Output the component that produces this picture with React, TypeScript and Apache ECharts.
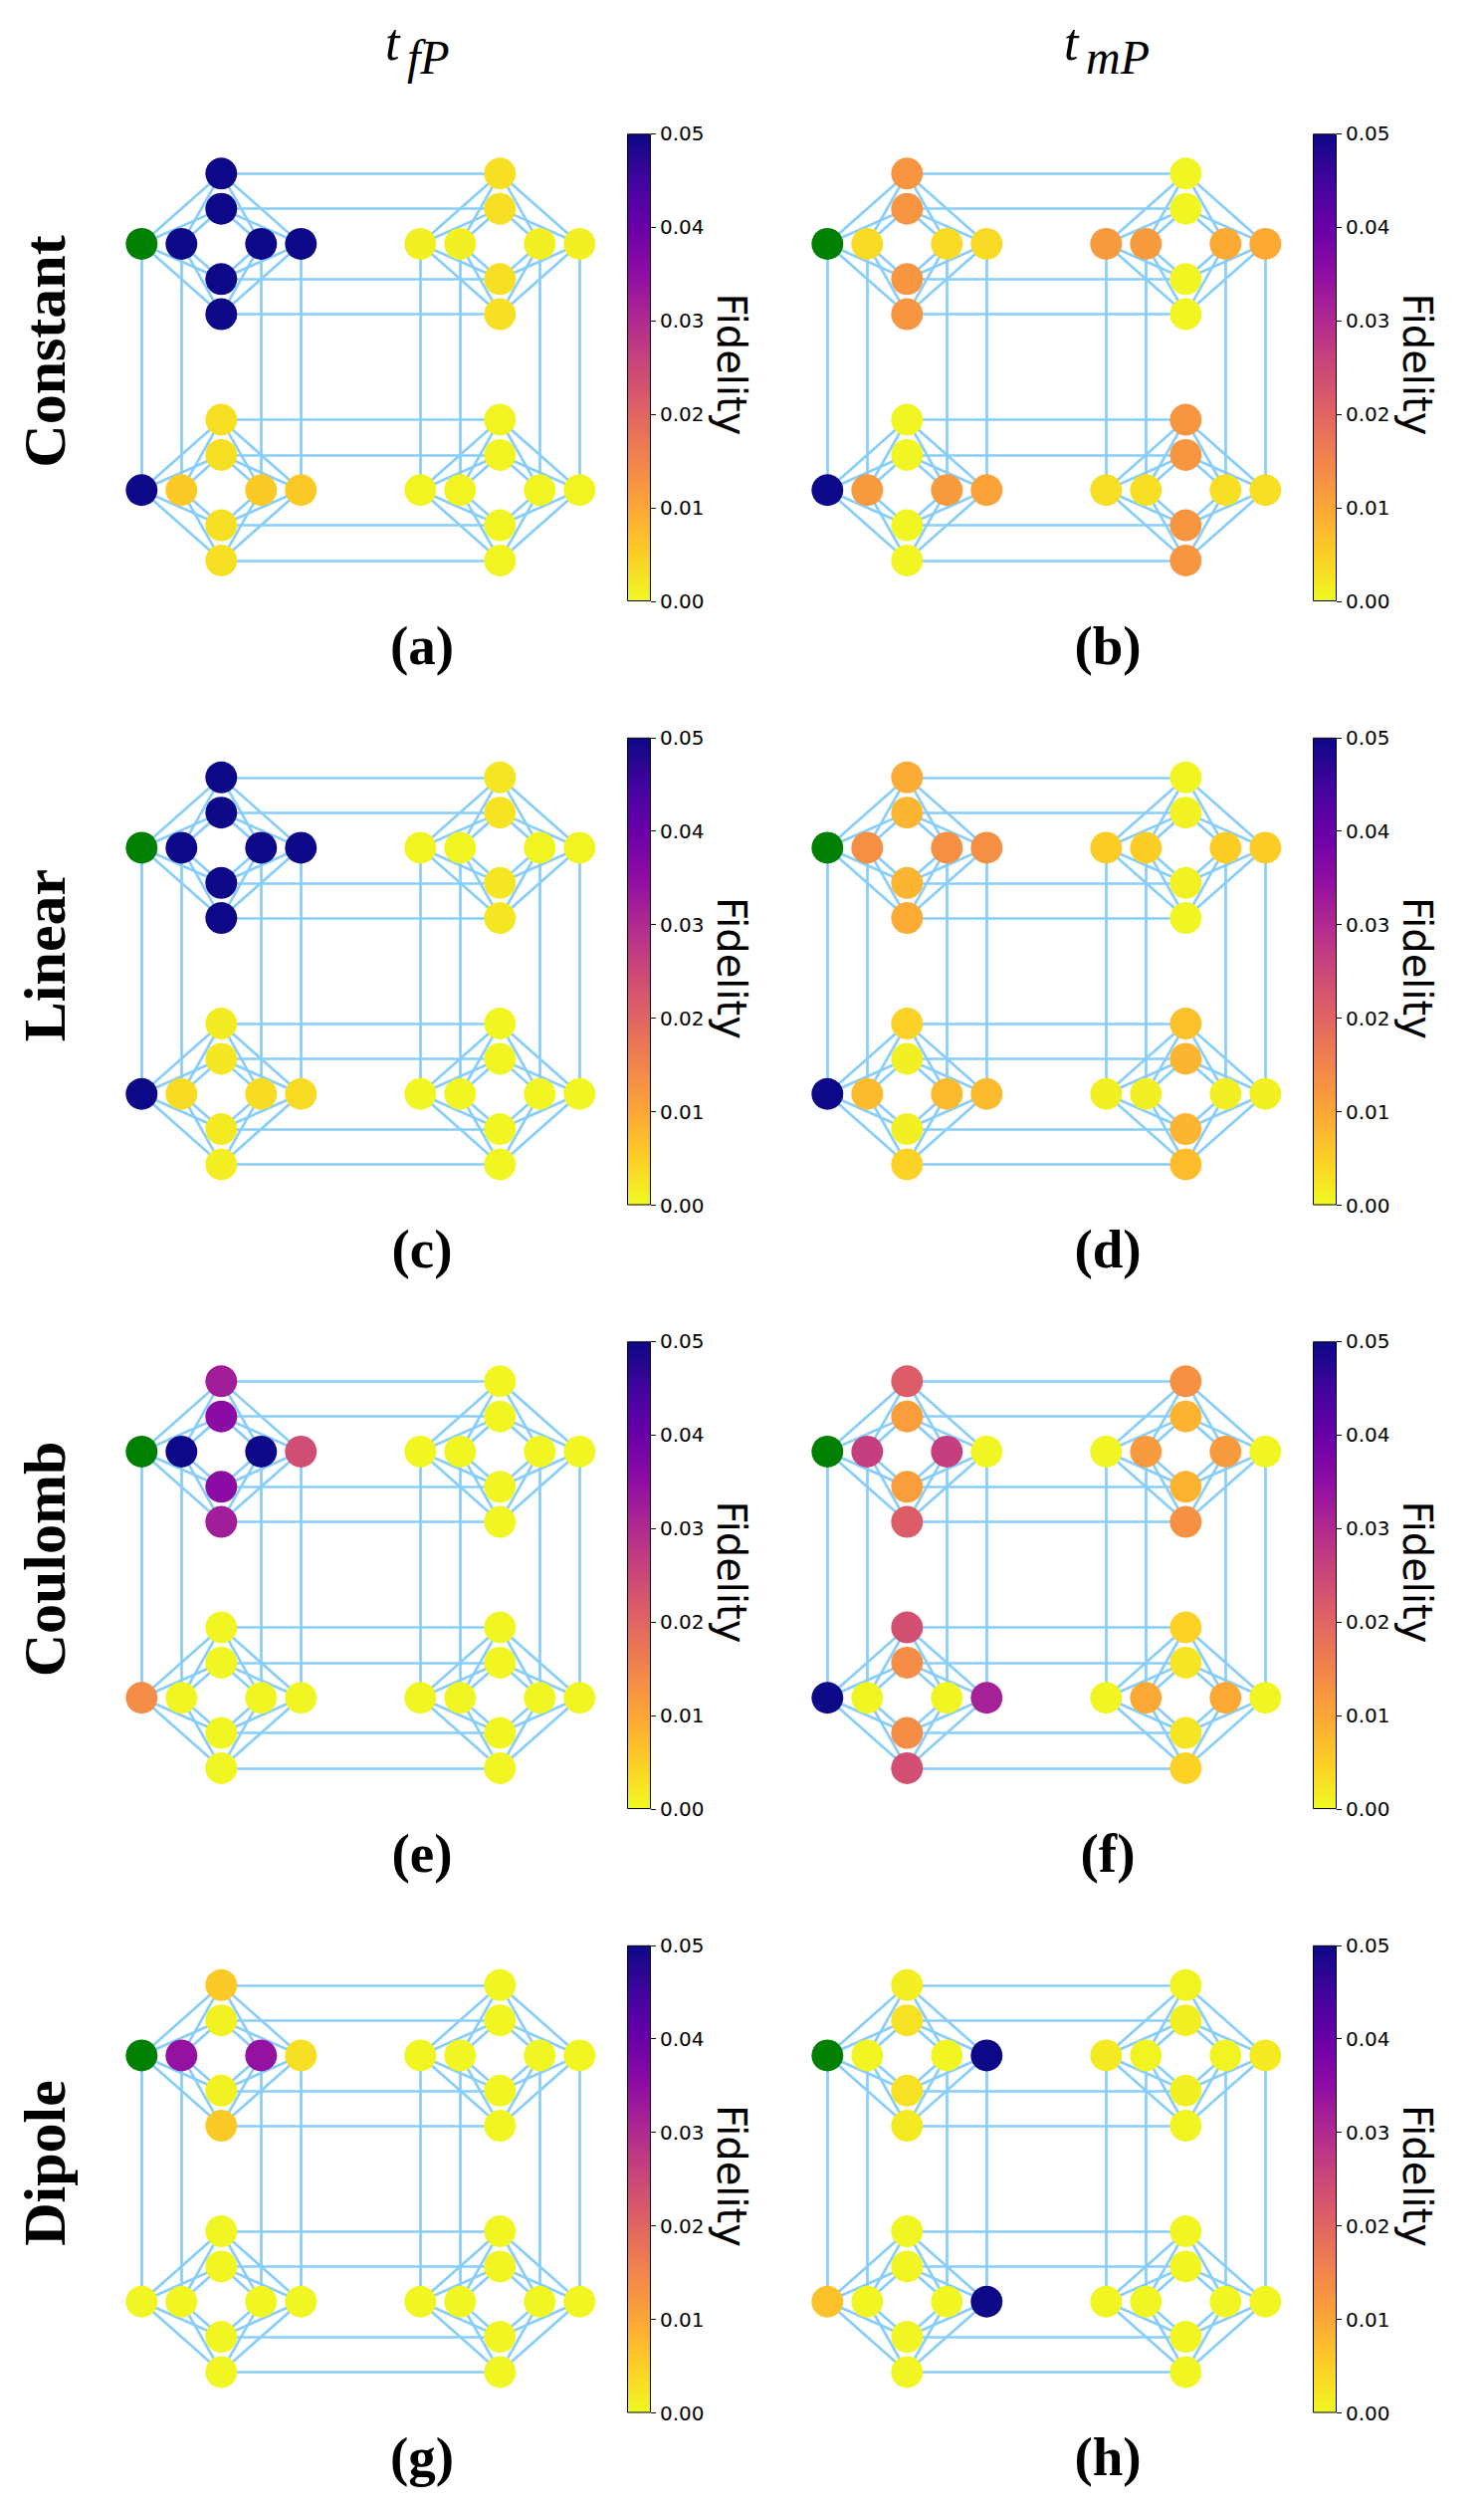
import React, { useEffect, useRef } from "react";
import * as echarts from "echarts";

// ---------------- data ----------------
const COLUMN_TITLE_SUBS = ["fP", "mP"];
const ROW_TITLES = ["Constant", "Linear", "Coulomb", "Dipole"];
const PANEL_LABELS = ["(a)", "(b)", "(c)", "(d)", "(e)", "(f)", "(g)", "(h)"];
const CBAR_MIN = 0;
const CBAR_MAX = 0.05;
const CBAR_STEP = 0.01;
const CBAR_TITLE = "Fidelity";

// Node order in every array: unit cells TL, TR, BL, BR; inside a cell the
// vertical column (top, 2nd, 3rd, bottom) then the horizontal row
// (left, 2nd, 3rd, right). null marks the source qubit (drawn green).
const fidA = [
  0.05, 0.05, 0.05, 0.05, null, 0.05, 0.05, 0.05,
  0.003, 0.003, 0.003, 0.003, 0.001, 0.001, 0.001, 0.001,
  0.003, 0.003, 0.003, 0.003, 0.05, 0.0055, 0.0055, 0.0055,
  0.0006, 0.0006, 0.0006, 0.0006, 0.0006, 0.0006, 0.0006, 0.0006,
];
const fidB = [
  0.0125, 0.0125, 0.0125, 0.0125, null, 0.0035, 0.0035, 0.0035,
  0.0005, 0.0005, 0.0005, 0.0005, 0.0118, 0.0118, 0.0095, 0.0095,
  0.0005, 0.0005, 0.0005, 0.0005, 0.05, 0.0118, 0.0118, 0.0105,
  0.0125, 0.0125, 0.0125, 0.0125, 0.003, 0.003, 0.003, 0.003,
];
const fidC = [
  0.05, 0.05, 0.05, 0.05, null, 0.05, 0.05, 0.05,
  0.0022, 0.0025, 0.0022, 0.0022, 0.0006, 0.0006, 0.0006, 0.0006,
  0.0015, 0.002, 0.0018, 0.0012, 0.05, 0.0034, 0.0034, 0.0034,
  0.0005, 0.0005, 0.0005, 0.0005, 0.0005, 0.0005, 0.0005, 0.0005,
];
const fidD = [
  0.0094, 0.0081, 0.0081, 0.0094, null, 0.0134, 0.0134, 0.0134,
  0.0005, 0.0008, 0.0008, 0.0005, 0.005, 0.005, 0.005, 0.005,
  0.0045, 0.001, 0.001, 0.0045, 0.05, 0.0074, 0.0074, 0.0074,
  0.0066, 0.0081, 0.0081, 0.0072, 0.001, 0.001, 0.001, 0.001,
];
const fidE = [
  0.0322, 0.0355, 0.0355, 0.0322, null, 0.05, 0.05, 0.024,
  0.0005, 0.0005, 0.0005, 0.0005, 0.0005, 0.0005, 0.0005, 0.0005,
  0.0005, 0.0005, 0.0005, 0.0005, 0.0137, 0.0005, 0.0005, 0.0005,
  0.0005, 0.0005, 0.0005, 0.0005, 0.0005, 0.0005, 0.0005, 0.0005,
];
const fidF = [
  0.0212, 0.0112, 0.0112, 0.0212, null, 0.0263, 0.0263, 0.0005,
  0.0132, 0.0083, 0.0083, 0.0132, 0.0005, 0.0118, 0.0118, 0.0005,
  0.0236, 0.0137, 0.0137, 0.0236, 0.05, 0.0005, 0.0005, 0.0316,
  0.0045, 0.0023, 0.0023, 0.0045, 0.0005, 0.0097, 0.0097, 0.0005,
];
const fidG = [
  0.0055, 0.0008, 0.0008, 0.0055, null, 0.0341, 0.0341, 0.0029,
  0.0005, 0.0005, 0.0005, 0.0005, 0.0005, 0.0005, 0.0005, 0.0005,
  0.0005, 0.0005, 0.0005, 0.0005, 0.0005, 0.0005, 0.0005, 0.0005,
  0.0005, 0.0005, 0.0005, 0.0005, 0.0005, 0.0005, 0.0005, 0.0005,
];
const fidH = [
  0.0012, 0.0027, 0.0027, 0.0018, null, 0.0005, 0.0005, 0.05,
  0.0006, 0.001, 0.001, 0.0006, 0.0018, 0.0006, 0.0006, 0.0018,
  0.0005, 0.0005, 0.0005, 0.0005, 0.0065, 0.0005, 0.0005, 0.05,
  0.0005, 0.0005, 0.0005, 0.0005, 0.0005, 0.0005, 0.0005, 0.0005,
];
const PANELS = [fidA, fidB, fidC, fidD, fidE, fidF, fidG, fidH];

// ---------------- styling ----------------
const PLASMA = [
  "#0d0887", "#41049d", "#6a00a8", "#8f0da4", "#b12a90", "#cc4778",
  "#e16462", "#f2844b", "#fca636", "#fcce25", "#f0f921",
];
const SOURCE_COLOR = "#008000";
const EDGE_COLOR = "#87CEFA";
const COL_DX = 689;
const ROW_DY = 606.5;
const GRAPH_LEFT = 142.3;
const GRAPH_TOP = 174.3;
const GRAPH_W = 440;
const GRAPH_H = 388.6;
const CBAR_LEFT = 630;
const CBAR_TOP = 134.3;
const CBAR_W = 24;
const CBAR_H = 469.7;

function hex(h: string) {
  return [1, 3, 5].map((i) => parseInt(h.slice(i, i + 2), 16));
}
function plasma(p: number) {
  const s = Math.max(0, Math.min(1, p)) * (PLASMA.length - 1);
  const i = Math.min(Math.floor(s), PLASMA.length - 2);
  const t = s - i;
  const a = hex(PLASMA[i]);
  const b = hex(PLASMA[i + 1]);
  const c = a.map((v, k) => Math.round(v + (b[k] - v) * t));
  return `rgb(${c[0]},${c[1]},${c[2]})`;
}
function fidColor(f: number | null) {
  if (f === null) return SOURCE_COLOR;
  const t = (f - CBAR_MIN) / (CBAR_MAX - CBAR_MIN);
  return plasma(1 - Math.min(1, Math.max(0, t)));
}

// Chimera-like 2x2 layout of K4,4 unit cells
const OFFS = [-2, -1, 1, 2];
function nodePositions() {
  const pos: number[][] = [];
  for (let r = 0; r < 2; r++)
    for (let c = 0; c < 2; c++) {
      const cx = 2 + 7 * c;
      const cy = 2 + 7 * r;
      OFFS.forEach((d) => pos.push([cx, cy + d]));
      OFFS.forEach((d) => pos.push([cx + d, cy]));
    }
  return pos;
}
function edges() {
  const e: number[][] = [];
  for (let k = 0; k < 4; k++)
    for (let i = 0; i < 4; i++)
      for (let j = 0; j < 4; j++) e.push([k * 8 + i, k * 8 + 4 + j]);
  for (let i = 0; i < 4; i++) {
    e.push([0 + i, 8 + i]);
    e.push([16 + i, 24 + i]);
    e.push([4 + i, 20 + i]);
    e.push([12 + i, 28 + i]);
  }
  return e;
}

function txt(x: number, y: number, text: string, font: string, align: string, rotation = 0) {
  return {
    type: "text",
    x,
    y,
    rotation,
    silent: true,
    style: {
      text,
      font,
      fill: "#000",
      align,
      verticalAlign: "middle",
      textAlign: align,
      textVerticalAlign: "middle",
    },
  };
}

function buildOption() {
  const pos = nodePositions();
  const links = edges().map(([s, t]) => ({ source: s, target: t }));
  const grid: any[] = [];
  const xAxis: any[] = [];
  const yAxis: any[] = [];
  const series: any[] = [];
  const graphic: any[] = [];

  PANELS.forEach((vals, p) => {
    const row = Math.floor(p / 2);
    const col = p % 2;
    grid.push({
      left: GRAPH_LEFT + col * COL_DX,
      top: GRAPH_TOP + row * ROW_DY,
      width: GRAPH_W,
      height: GRAPH_H,
    });
    xAxis.push({ type: "value", gridIndex: p, min: 0, max: 11, show: false });
    yAxis.push({ type: "value", gridIndex: p, min: 0, max: 11, inverse: true, show: false });
    series.push({
      type: "graph",
      layout: "none",
      coordinateSystem: "cartesian2d",
      xAxisIndex: p,
      yAxisIndex: p,
      symbol: "circle",
      symbolSize: 32,
      silent: true,
      label: { show: false },
      lineStyle: { color: EDGE_COLOR, width: 2.7, opacity: 1, curveness: 0 },
      itemStyle: { borderWidth: 0 },
      data: vals.map((v, i) => ({
        name: "n" + i,
        value: pos[i],
        itemStyle: { color: fidColor(v as any) },
      })),
      links,
    });
  });

  PANELS.forEach((_, p) => {
    const row = Math.floor(p / 2);
    const col = p % 2;
    const gi = PANELS.length + p;
    grid.push({
      left: CBAR_LEFT + col * COL_DX,
      top: CBAR_TOP + row * ROW_DY,
      width: CBAR_W,
      height: CBAR_H,
    });
    xAxis.push({ type: "category", gridIndex: gi, data: ["c"], show: false });
    yAxis.push({
      type: "value",
      gridIndex: gi,
      min: CBAR_MIN,
      max: CBAR_MAX,
      interval: CBAR_STEP,
      position: "right",
      axisLine: { show: false },
      splitLine: { show: false },
      axisTick: { show: true, length: 5, lineStyle: { color: "#000", width: 1 } },
      axisLabel: {
        margin: 9,
        color: "#000",
        fontSize: 20,
        fontFamily: "DejaVu Sans",
        formatter: (v: number) => v.toFixed(2),
      },
    });
    series.push({
      type: "bar",
      xAxisIndex: gi,
      yAxisIndex: gi,
      barWidth: "100%",
      silent: true,
      data: [CBAR_MAX],
      itemStyle: {
        color: new echarts.graphic.LinearGradient(
          0, 0, 0, 1,
          PLASMA.map((c, i) => ({ offset: i / (PLASMA.length - 1), color: c }))
        ),
        borderColor: "#000",
        borderWidth: 1,
      },
    });
    graphic.push(
      txt(735 + col * COL_DX, 366 + row * ROW_DY, CBAR_TITLE, '40px "DejaVu Sans"', "center", -Math.PI / 2)
    );
    graphic.push(
      txt(424 + col * COL_DX, 648 + row * ROW_DY, PANEL_LABELS[p], 'bold 55px "Liberation Serif"', "center")
    );
  });

  ROW_TITLES.forEach((t, r) => {
    graphic.push(txt(45, 353 + r * ROW_DY, t, 'bold 60px "Liberation Serif"', "center", Math.PI / 2));
  });

  const tX = [387, 1069];
  COLUMN_TITLE_SUBS.forEach((sub, c) => {
    graphic.push(txt(tX[c], 42, "t", 'italic 52px "Liberation Serif"', "left"));
    graphic.push(txt(tX[c] + 22, 57, sub, 'italic 48px "Liberation Serif"', "left"));
  });

  return {
    animation: false,
    backgroundColor: "#fff",
    grid,
    xAxis,
    yAxis,
    series,
    graphic,
  };
}

export default function App() {
  const ref = useRef<HTMLDivElement>(null);
  useEffect(() => {
    if (!ref.current) return;
    const chart = echarts.init(ref.current, undefined, { renderer: "svg" });
    chart.setOption(buildOption() as any);
    return () => chart.dispose();
  }, []);
  return (
    <div
      ref={ref}
      style={{ position: "absolute", left: 0, top: 0, width: 1491, height: 2521 }}
    />
  );
}
